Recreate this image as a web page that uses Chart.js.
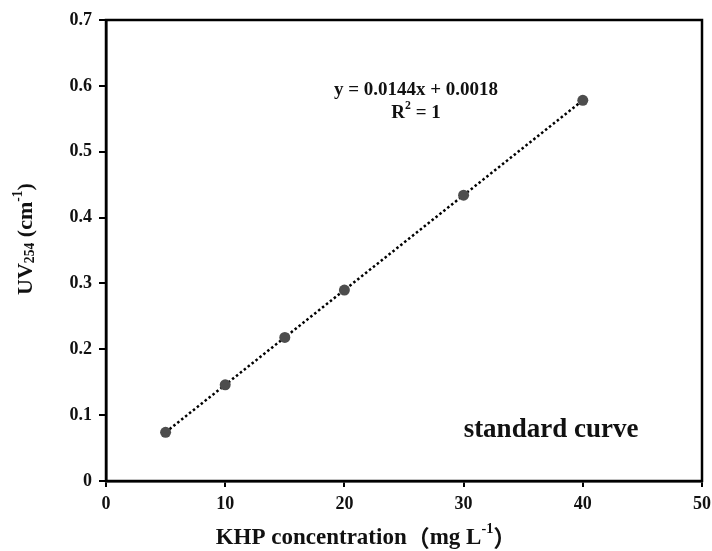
<!DOCTYPE html>
<html>
<head>
<meta charset="utf-8">
<script src="https://cdn.jsdelivr.net/npm/chart.js@4/dist/chart.umd.min.js"></script>
<style>
  html, body { margin: 0; padding: 0; background: #fff; }
  #wrap { width: 712px; height: 551px; }
</style>
</head>
<body>
<div id="wrap"><canvas id="grafica" width="712" height="551"></canvas></div>
<script>
"use strict";

// datos
const concentraciones = [5, 10, 15, 20, 30, 40];
const absorbancias = [0.074, 0.146, 0.218, 0.290, 0.434, 0.578];
const ticksX = [0, 10, 20, 30, 40, 50];
const ticksY = [0, 0.1, 0.2, 0.3, 0.4, 0.5, 0.6, 0.7];

const serif = "'Liberation Serif', 'Times New Roman', serif";

// dibuja texto con partes en subindice / superindice
function richText(ctx, parts, x, y, size, align) {
    let total = 0;
    parts.forEach((p) => {
        const s = p.mode ? size * 0.62 : size;
        ctx.font = `bold ${s}px ${p.cjk ? "'Noto Sans CJK SC'" : serif}`;
        p.w = ctx.measureText(p.t).width;
        total += p.w;
    });
    let cx = align === "center" ? x - total / 2 : x;
    parts.forEach((p) => {
        const s = p.mode ? size * 0.62 : size;
        ctx.font = `bold ${s}px ${p.cjk ? "'Noto Sans CJK SC'" : serif}`;
        let dy = 0;
        if (p.mode === "sub") dy = size * 0.22;
        if (p.mode === "sup") dy = -size * 0.36;
        ctx.fillText(p.t, cx, y + dy);
        cx += p.w;
    });
}

const textos = {
    id: "textos",
    afterDraw(chart) {
        const { ctx, chartArea } = chart;
        ctx.save();
        // marco
        ctx.strokeStyle = "#000";
        ctx.lineWidth = 2.5;
        ctx.strokeRect(chartArea.left, chartArea.top, chartArea.right - chartArea.left, chartArea.bottom - chartArea.top);

        ctx.fillStyle = "#111";
        ctx.textBaseline = "middle";
        ctx.textAlign = "left";

        richText(ctx, [{ t: "y = 0.0144x + 0.0018" }], 416, 90, 19, "center");
        richText(ctx, [{ t: "R" }, { t: "2", mode: "sup" }, { t: " = 1" }], 416, 113, 19, "center");

        richText(ctx, [{ t: "standard curve" }], 551, 430, 27, "center");

        richText(ctx, [
            { t: "KHP concentration" },
            { t: "（", cjk: true },
            { t: "mg L" },
            { t: "-1", mode: "sup" },
            { t: "）", cjk: true },
        ], 366, 538, 23, "center");

        ctx.translate(26, 239);
        ctx.rotate(-Math.PI / 2);
        richText(ctx, [
            { t: "UV" },
            { t: "254", mode: "sub" },
            { t: " (cm" },
            { t: "-1", mode: "sup" },
            { t: ")" },
        ], 0, 0, 22, "center");
        ctx.restore();
    },
};

const puntos = concentraciones.map((c, i) => ({ x: c, y: absorbancias[i] }));

new Chart(document.querySelector("#grafica"), {
    type: "scatter",
    data: {
        datasets: [
            {
                label: "standard curve",
                data: puntos,
                showLine: true,
                borderColor: "#000",
                borderWidth: 2.5,
                borderDash: [2.5, 2.5],
                pointRadius: 5.5,
                pointBackgroundColor: "#4d4d4d",
                pointBorderColor: "#4d4d4d",
                pointBorderWidth: 0,
            },
        ],
    },
    options: {
        responsive: false,
        animation: false,
        layout: { padding: { left: 0, top: 20, right: 10, bottom: 0 } },
        plugins: { legend: { display: false }, tooltip: { enabled: false } },
        scales: {
            x: {
                type: "linear",
                min: 0,
                max: 50,
                afterBuildTicks: (scale) => { scale.ticks = ticksX.map((v) => ({ value: v })); },
                afterFit: (scale) => {
                    scale.height = 70;
                    scale.paddingLeft = 0;
                    scale.paddingRight = 0;
                },
                border: { display: true, color: "#000", width: 2.5 },
                grid: { drawOnChartArea: false, drawTicks: true, tickLength: 6, tickColor: "#000", lineWidth: 2 },
                ticks: { color: "#111", padding: 7, font: { family: serif, size: 18, weight: "bold" } },
            },
            y: {
                type: "linear",
                min: 0,
                max: 0.7,
                afterBuildTicks: (scale) => { scale.ticks = ticksY.map((v) => ({ value: v })); },
                afterFit: (scale) => {
                    scale.width = 106;
                    scale.paddingTop = 0;
                    scale.paddingBottom = 0;
                },
                border: { display: true, color: "#000", width: 2.5 },
                grid: { drawOnChartArea: false, drawTicks: true, tickLength: 7, tickColor: "#000", lineWidth: 2 },
                ticks: {
                    color: "#111",
                    padding: 7,
                    font: { family: serif, size: 18, weight: "bold" },
                    callback: (v) => (v === 0 ? "0" : v.toFixed(1)),
                },
            },
        },
    },
    plugins: [textos],
});
</script>
</body>
</html>
